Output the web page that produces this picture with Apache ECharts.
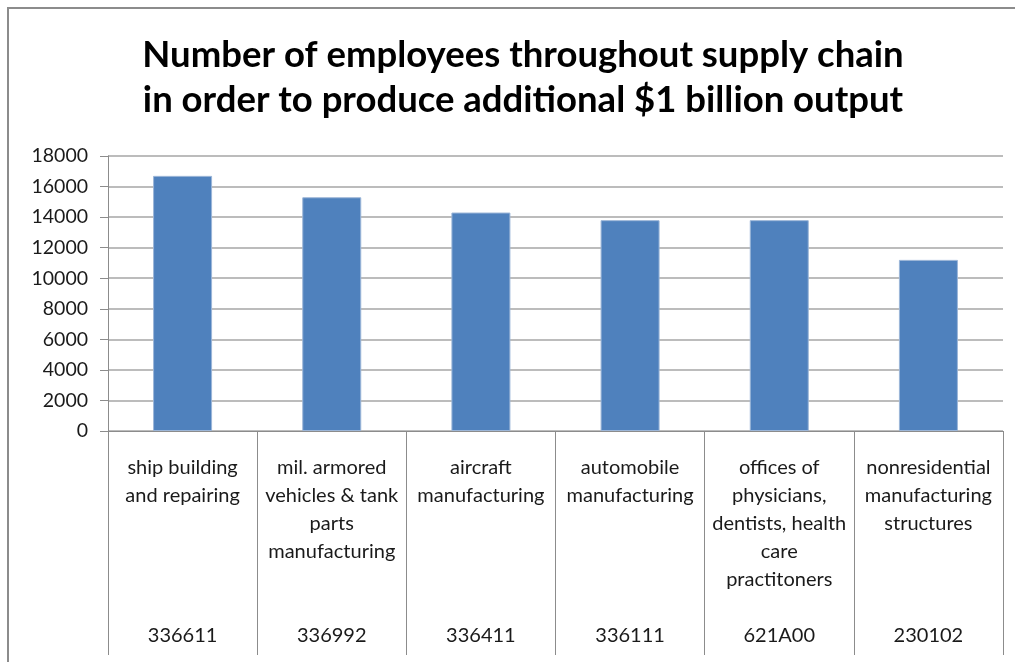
<!DOCTYPE html>
<html>
<head>
<meta charset="utf-8">
<script src="https://cdn.jsdelivr.net/npm/echarts@6/dist/echarts.min.js"></script>
<style>
  html, body { margin: 0; padding: 0; background: #fff; }
  #chart { width: 1015px; height: 662px; }
</style>
</head>
<body>
<div id="chart"></div>
<script>
// Industry names (wrapped as in the category box) and their industry codes
const industries = [
  ['ship building', 'and repairing'],
  ['mil. armored', 'vehicles & tank', 'parts', 'manufacturing'],
  ['aircraft', 'manufacturing'],
  ['automobile', 'manufacturing'],
  ['offices of', 'physicians,', 'dentists, health', 'care', 'practitoners'],
  ['nonresidential', 'manufacturing', 'structures']
];
const codes = ['336611', '336992', '336411', '336111', '621A00', '230102'];
// Employees needed throughout the supply chain per additional $1 billion output
const employees = [16700, 15300, 14300, 13800, 13800, 11200];
const yTicks = { min: 0, max: 18000, interval: 2000 };

const NAME_ROWS = 6; // name block rows before the code row
const categories = industries.map((lines, i) => {
  const padded = lines.slice();
  while (padded.length < NAME_ROWS) padded.push('');
  return padded.join('\n') + '\n' + codes[i];
});

const chart = echarts.init(document.getElementById('chart'));
chart.setOption({
  animation: false,
  textStyle: { fontFamily: 'Lato, "Open Sans", sans-serif' },
  graphic: [{
    // chart-area frame: left and top edges
    type: 'polyline',
    shape: { points: [[8, 700], [8, 8], [1100, 8]] },
    style: { fill: 'none', stroke: '#8c8c8c', lineWidth: 2 },
    silent: true
  }],
  title: {
    text: 'Number of employees throughout supply chain\nin order to produce additional $1 billion output',
    left: 518,
    textAlign: 'center',
    top: 28,
    textStyle: {
      fontFamily: 'Lato, sans-serif',
      fontWeight: 'bold',
      fontSize: 36.5,
      lineHeight: 45,
      color: '#000'
    }
  },
  grid: { left: 108, right: 12, top: 156, bottom: 231 },
  xAxis: {
    type: 'category',
    data: categories,
    axisLine: { lineStyle: { color: '#8c8c8c', width: 1 } },
    axisTick: {
      show: true,
      interval: 0,
      length: 224,
      lineStyle: { color: '#8c8c8c', width: 1 }
    },
    axisLabel: {
      interval: 0,
      margin: 23,
      fontSize: 20,
      lineHeight: 28,
      color: '#1a1a1a',
      align: 'center'
    }
  },
  yAxis: {
    type: 'value',
    min: yTicks.min,
    max: yTicks.max,
    interval: yTicks.interval,
    axisLine: { show: true, lineStyle: { color: '#8c8c8c', width: 1 } },
    axisTick: { show: true, length: 8, lineStyle: { color: '#8c8c8c' } },
    splitLine: { lineStyle: { color: '#a6a6a6', width: 1.5 } },
    axisLabel: {
      fontSize: 19.5,
      color: '#1a1a1a',
      margin: 20,
      formatter: (v) => String(v)
    }
  },
  series: [{
    type: 'bar',
    data: employees,
    barWidth: 59,
    itemStyle: { color: '#4f81bd', borderColor: '#9cb6d8', borderWidth: 1 }
  }]
});
</script>
</body>
</html>
